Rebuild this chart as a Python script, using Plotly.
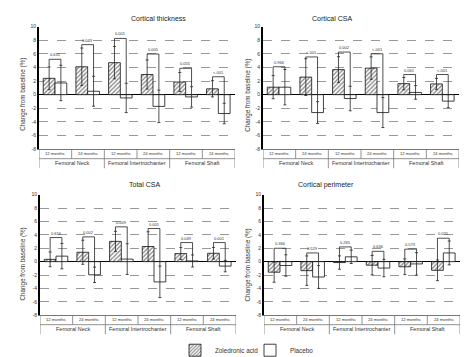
import plotly.graph_objects as go

# ---------------- data ----------------
months = ["12 months", "24 months", "12 months", "24 months", "12 months", "24 months"]
sites = ["Femoral Neck", "Femoral Intertrochanter", "Femoral Shaft"]
y_ticks = [-8, -6, -4, -2, 0, 2, 4, 6, 8, 10]
legend_names = ["Zoledronic acid", "Placebo"]

# Cortical thickness
thick_zol = [2.4, 4.1, 4.7, 2.96, 1.86, 0.86]
thick_zol_err = [1.67, 2.75, 2.37, 2.14, 1.39, 1.19]
thick_pla = [1.72, 0.5, -0.48, -1.72, -0.33, -2.77]
thick_pla_err = [2.6, 2.2, 2.15, 2.38, 1.5, 1.5]
thick_p = ["0.631", "0.043", "0.001", "0.005", "0.055", "<.001"]
thick_bracket = [5.2, 7.35, 8.26, 5.97, 3.87, 2.63]

# Cortical CSA
csa_zol = [1.1, 2.58, 3.68, 3.9, 1.62, 1.58]
csa_zol_err = [1.7, 2.7, 1.9, 1.65, 0.9, 0.8]
csa_pla = [1.1, -2.63, -0.57, -2.63, 0.33, -0.95]
csa_pla_err = [2.6, 1.6, 1.8, 2.2, 1.0, 0.95]
csa_p = ["0.966", "<.001", "0.002", "<.001", "0.061", "<.001"]
csa_bracket = [4.1, 5.54, 6.26, 6.0, 2.96, 2.96]

# Total CSA
tcsa_zol = [0.34, 1.4, 3.03, 2.26, 1.2, 1.25]
tcsa_zol_err = [1.1, 1.8, 1.5, 2.2, 0.9, 0.87]
tcsa_pla = [0.82, -1.97, 0.38, -3.03, 0.1, -0.67]
tcsa_pla_err = [1.9, 1.15, 2.3, 2.35, 0.9, 0.85]
tcsa_p = ["0.616", "0.002", "0.009", "0.001", "0.049", "0.001"]
tcsa_bracket = [3.6, 3.7, 5.2, 4.95, 2.85, 2.85]

# Cortical perimeter
perim_zol = [-1.58, -1.35, -0.14, -0.53, -0.77, -1.3]
perim_zol_err = [1.5, 2.2, 1.0, 1.45, 1.17, 1.54]
perim_pla = [-0.58, -2.3, 0.72, -0.96, -0.34, 1.3]
perim_pla_err = [1.6, 1.7, 1.0, 1.3, 1.68, 1.78]
perim_p = ["0.366", "0.529", "0.265", "0.636", "0.573", "0.025"]
perim_bracket = [2.0, 1.3, 2.2, 1.54, 1.87, 3.5]

panels = [
    dict(title="Cortical thickness", zol=thick_zol, zerr=thick_zol_err, pla=thick_pla,
         perr=thick_pla_err, p=thick_p, br=thick_bracket),
    dict(title="Cortical CSA", zol=csa_zol, zerr=csa_zol_err, pla=csa_pla,
         perr=csa_pla_err, p=csa_p, br=csa_bracket),
    dict(title="Total CSA", zol=tcsa_zol, zerr=tcsa_zol_err, pla=tcsa_pla,
         perr=tcsa_pla_err, p=tcsa_p, br=tcsa_bracket),
    dict(title="Cortical perimeter", zol=perim_zol, zerr=perim_zol_err, pla=perim_pla,
         perr=perim_pla_err, p=perim_p, br=perim_bracket),
]

# ---------------- layout geometry (pixels) ----------------
W, H = 470, 357
# x0, x1, y_top(10), y_bottom(-8), title_x, title_y, ylabel_x, ylabel_y
geo = [
    (31, 227, 16, 141.7, 121, 8, 15, 86),
    (255, 451, 16, 141.7, 346, 8, 240, 86),
    (32, 228, 188.5, 312, 119, 178, 15, 260),
    (256, 452, 188.5, 312, 348, 178, 240, 260),
]
ROW = 9.8  # height of each table row (px)

FONT = "Liberation Sans, Arial, sans-serif"
TXT = "#333333"
LINE = "#222222"
ZOFF, POFF, BW = -0.19, 0.17, 0.36


def px(xp):
    return xp / W


def py(yp):
    return 1 - yp / H


fig = go.Figure()
shapes = []
annotations = []
n = len(months)
idx = list(range(n))

for k, (pn, g) in enumerate(zip(panels, geo)):
    x0, x1, yt, yb, tx, ty, lx, ly = g
    xa = "x" if k == 0 else f"x{k+1}"
    ya = "y" if k == 0 else f"y{k+1}"
    xname = "xaxis" if k == 0 else f"xaxis{k+1}"
    yname = "yaxis" if k == 0 else f"yaxis{k+1}"

    fig.add_trace(go.Bar(
        x=[i + ZOFF for i in idx], y=pn["zol"], width=BW, name=legend_names[0],
        xaxis=xa, yaxis=ya, showlegend=(k == 0),
        marker=dict(color="white", line=dict(color="#111111", width=0.8),
                    pattern=dict(shape="/", fgcolor="#1a1a1a", bgcolor="white",
                                 size=3, solidity=0.45)),
        error_y=dict(type="data", array=pn["zerr"], visible=True, color=LINE,
                     thickness=0.8, width=1.5),
    ))
    fig.add_trace(go.Bar(
        x=[i + POFF for i in idx], y=pn["pla"], width=BW, name=legend_names[1],
        xaxis=xa, yaxis=ya, showlegend=(k == 0),
        marker=dict(color="white", line=dict(color="#111111", width=0.8)),
        error_y=dict(type="data", array=pn["perr"], visible=True, color=LINE,
                     thickness=0.8, width=1.5),
    ))

    fig.layout[xname] = dict(
        domain=[px(x0), px(x1)], range=[-0.5, n - 0.5], anchor=ya,
        showticklabels=False, showgrid=False, zeroline=False,
        showline=True, linecolor="#777777", linewidth=0.8, ticks="",
        fixedrange=True,
    )
    fig.layout[yname] = dict(
        domain=[py(yb), py(yt)], range=[-8, 10], anchor=xa,
        tickvals=y_ticks, ticktext=[str(t) for t in y_ticks],
        tickfont=dict(size=5, color=TXT, family=FONT),
        showgrid=True, gridcolor="#999999", griddash="dash", gridwidth=0.6,
        zeroline=True, zerolinecolor="#000000", zerolinewidth=1.3,
        showline=True, linecolor="#000000", linewidth=2, ticks="",
        fixedrange=True,
    )

    # brackets with p values
    for i in idx:
        zl = i + ZOFF
        pr = i + POFF
        ztop = pn["zol"][i] + pn["zerr"][i]
        ptop = pn["pla"][i] + pn["perr"][i]
        b = pn["br"][i]
        shapes.append(dict(type="path", xref=xa, yref=ya,
                           path=f"M{zl},{ztop} L{zl},{b} L{pr},{b} L{pr},{ptop}",
                           line=dict(color=LINE, width=0.8)))
        annotations.append(dict(x=(zl + pr) / 2, y=b, xref=xa, yref=ya, text=pn["p"][i],
                                showarrow=False, yanchor="bottom", yshift=0,
                                font=dict(size=4, color=TXT, family=FONT)))

    # category table below the axis
    r1 = py(yb + ROW)
    r2 = py(yb + 2 * ROW)
    ytop_p = py(yb)
    shapes.append(dict(type="line", xref=xa, yref="paper", x0=-0.5, x1=n - 0.5,
                       y0=r1, y1=r1, line=dict(color="#777777", width=0.8)))
    for j in range(n + 1):
        full = (j % 2 == 0)
        shapes.append(dict(type="line", xref=xa, yref="paper", x0=j - 0.5, x1=j - 0.5,
                           y0=ytop_p, y1=(r2 if full else r1),
                           line=dict(color="#777777", width=0.8)))
    for i in idx:
        annotations.append(dict(x=i, y=py(yb + ROW / 2), xref=xa, yref="paper",
                                text=months[i], showarrow=False, yanchor="middle",
                                font=dict(size=4.2, color=TXT, family=FONT)))
    for s, site in enumerate(sites):
        annotations.append(dict(x=2 * s + 0.5, y=py(yb + 1.5 * ROW), xref=xa, yref="paper",
                                text=site, showarrow=False, yanchor="middle",
                                font=dict(size=5.5, color=TXT, family=FONT)))

    # panel title and y-axis label
    annotations.append(dict(x=px(tx), y=py(ty), xref="paper", yref="paper",
                            text=pn["title"], showarrow=False, yanchor="middle",
                            font=dict(size=7, color="#222222", family=FONT)))
    annotations.append(dict(x=px(lx), y=py(ly), xref="paper", yref="paper",
                            text="Change from baseline (%)", textangle=-90,
                            showarrow=False, xanchor="center", yanchor="middle",
                            font=dict(size=6.3, color=TXT, family=FONT)))

fig.update_layout(
    width=W, height=H, margin=dict(l=0, r=0, t=0, b=0),
    paper_bgcolor="white", plot_bgcolor="white",
    barmode="overlay", showlegend=True,
    legend=dict(orientation="h", x=px(167), y=py(348), xanchor="left", yanchor="middle",
                font=dict(size=6.3, color=TXT, family=FONT), itemwidth=30,
                entrywidth=30, entrywidthmode="pixels",
                bgcolor="rgba(0,0,0,0)", tracegroupgap=0),
    shapes=shapes, annotations=annotations,
    font=dict(family=FONT),
)

fig.write_html("out.html")
